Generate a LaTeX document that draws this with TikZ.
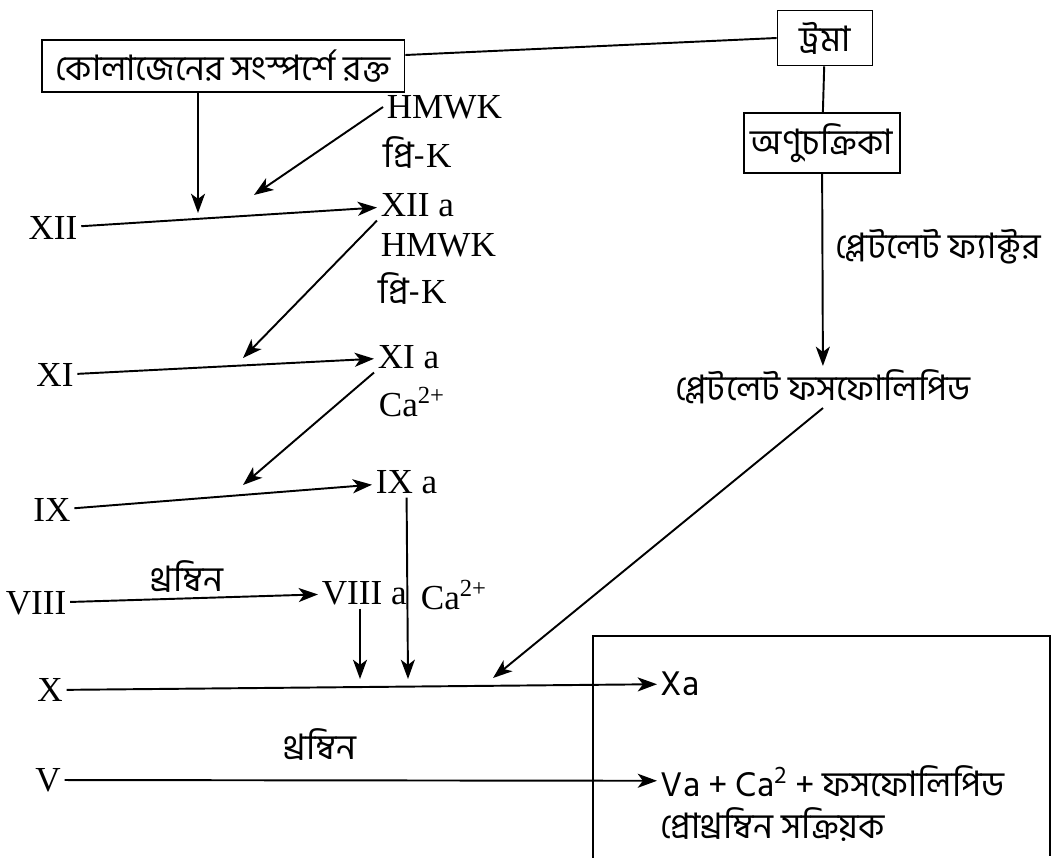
\documentclass[tikz,border=0pt]{standalone}
\usepackage{fontspec}
\setmainfont{Liberation Serif}
\newfontfamily\bn[Script=Bengali]{Hind Siliguri}
\usetikzlibrary{arrows.meta,positioning}
\tikzset{
  sbox/.style={rectangle,draw,line width=1.1pt,inner sep=4pt,
    font=\bn\fontsize{20}{24}\selectfont},
  ftxt/.style={inner sep=2pt,font=\fontsize{20}{24}\selectfont},
  btxt/.style={inner sep=2pt,font=\bn\fontsize{20}{24}\selectfont},
  arr/.style={-{Stealth[length=11pt,width=8pt,inset=3pt]},line width=1.1pt},
  ln/.style={line width=1.1pt},
}

\begin{document}
\begin{tikzpicture}[x=0.02cm,y=-0.02cm]
  \useasboundingbox (0,0) rectangle (1061,858);

  %% Boxes at the top
  \node[sbox,minimum width=7.26cm,minimum height=1.04cm] (blood) at (223,66)
    {কোলাজেনের সংস্পর্শে রক্ত};
  \node[sbox,minimum width=1.9cm,minimum height=1.1cm] (trauma) at (825,38) {ট্রমা};
  \node[sbox,minimum width=2.98cm,minimum height=1.2cm] (plt) at (822,143) {অণুচক্রিকা};
  \node[btxt,anchor=west] (pfac) at (832,247) {প্লেটলেট ফ্যাক্টর};
  \node[btxt] (pphos) at (823,387) {প্লেটলেট ফসফোলিপিড};

  %% Factors on the left
  \node[ftxt] (f12) at (53,228) {XII};
  \node[ftxt] (f11) at (55,375) {XI};
  \node[ftxt] (f9) at (52,510) {IX};
  \node[ftxt] (f8) at (36,603) {VIII};
  \node[ftxt] (f10) at (50,690) {X};
  \node[ftxt] (f5) at (48,780) {V};

  %% Activated factors
  \node[ftxt,anchor=west] (hmwka) at (383,107) {HMWK};
  \node[ftxt,anchor=west] (preka) at (380,152) {{\bn প্রি-}K};
  \node[ftxt,anchor=west] (f12a) at (377,205) {XII a};
  \node[ftxt,anchor=west] (hmwkb) at (377,245) {HMWK};
  \node[ftxt,anchor=west] (prekb) at (375,288) {{\bn প্রি-}K};
  \node[ftxt,anchor=west] (f11a) at (374,357) {XI a};
  \node[ftxt,anchor=west] (caa) at (375,402) {Ca\textsuperscript{2+}};
  \node[ftxt,anchor=west] (f9a) at (372,482) {IX a};
  \node[ftxt,anchor=west] (f8a) at (318,593) {VIII a};
  \node[ftxt,anchor=west] (cab) at (417,595) {Ca\textsuperscript{2+}};
  \node[btxt,anchor=west] (f10a) at (657,684) {Xa};
  \node[btxt,anchor=west] (f5a) at (657,781) {Va + Ca\textsuperscript{2} + ফসফোলিপিড};
  \node[btxt,anchor=west] (act) at (657,825) {প্রোথ্রম্বিন সক্রিয়ক};
  \node[btxt] (thra) at (187,577) {থ্রম্বিন};
  \node[btxt] (thrb) at (320,745) {থ্রম্বিন};

  %% Points on the lines
  \coordinate (c12) at (198,213);
  \coordinate (k12) at (254,195);
  \coordinate (c11) at (243,358);
  \coordinate (c9) at (243,485);
  \coordinate (c10a) at (360,679);
  \coordinate (c10b) at (408,679);
  \coordinate (c10c) at (493,678);

  %% Connectors
  \draw[ln] ([yshift=0.22cm]blood.east) -- (trauma.west);
  \draw[ln] (trauma) -- (plt);
  \draw[arr] (plt) -- (pphos);
  \draw[arr] (blood.south -| c12) -- (c12);
  \draw[arr] (hmwka.west) -- (k12);
  \draw[arr] (f12) -- (f12a);
  \draw[arr] (f12a.south west) -- (c11);
  \draw[arr] (f11) -- (f11a);
  \draw[arr] (f11a.south west) -- (c9);
  \draw[arr] (f9) -- (f9a);
  \draw[arr] (f9a.south) -- (c10b);
  \draw[arr] (f8) -- (f8a);
  \draw[arr] (f8a.south -| c10a) -- (c10a);
  \draw[arr] (pphos.south) -- (c10c);
  \draw[arr] (f10) -- (f10a);
  \draw[arr] (f5) -- (f5a);

  %% Box round the products
  \draw[ln] (593,858) -- (593,636) -- (1050,636) -- (1050,856);

\end{tikzpicture}
\end{document}
